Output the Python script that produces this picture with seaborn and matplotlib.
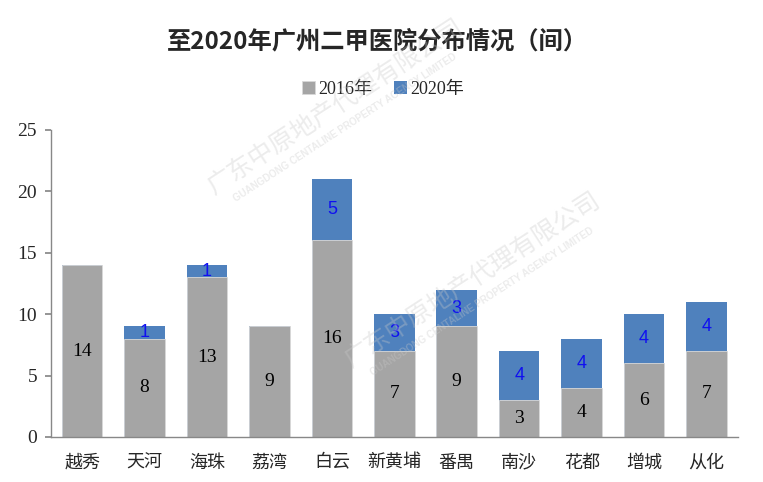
import matplotlib
matplotlib.use("Agg")
import matplotlib.pyplot as plt
import seaborn as sns
import pandas as pd

districts = ["越秀", "天河", "海珠", "荔湾", "白云", "新黄埔", "番禺", "南沙", "花都", "增城", "从化"]
v2016 = [14, 8, 13, 9, 16, 7, 9, 3, 4, 6, 7]
v2020_add = [0, 1, 1, 0, 5, 3, 3, 4, 4, 4, 4]
legend_labels = ["2016年", "2020年"]
title = "至2020年广州二甲医院分布情况（间）"
yticks = [0, 5, 10, 15, 20, 25]

sns.set_theme(style="white")
plt.rcParams['font.family'] = ['Liberation Serif', 'Noto Sans CJK SC', 'DejaVu Sans']

df = pd.DataFrame({"district": districts, "y2016": v2016, "add": v2020_add})
df["total"] = df["y2016"] + df["add"]

gray = "#A5A5A5"
blue = "#4F81BD"

fig = plt.figure(figsize=(7.63, 4.82), dpi=100)
ax = fig.add_axes([0.0668, 0.0934, 0.900, 0.637])

sns.barplot(data=df, x="district", y="total", color=blue, saturation=1, width=0.65, ax=ax,
            label=legend_labels[1], linewidth=0)
sns.barplot(data=df, x="district", y="y2016", color=gray, saturation=1, width=0.65, ax=ax,
            label=legend_labels[0], edgecolor="#d9d9d9", linewidth=0.6)

for i, row in df.iterrows():
    ax.text(i, row["y2016"] / 2, str(row["y2016"]), ha="center", va="center",
            fontsize=14, color="black", family=['Liberation Serif'])
    if row["add"] > 0:
        ax.text(i, row["y2016"] + row["add"] / 2, str(row["add"]), ha="center", va="center",
                fontsize=13, color="#1010F0", family=['Liberation Sans'])

ax.set_xlim(-0.5, 10.5)
ax.set_ylim(0, 25)
ax.set_yticks(yticks)
ax.set_xlabel("")
ax.set_ylabel("")
ax.tick_params(axis="y", labelsize=14, length=4, color="#888888", direction="out", left=True, pad=6)
ax.tick_params(axis="x", labelsize=13, length=0, pad=12)
for lab in ax.get_xticklabels():
    lab.set_family(['Noto Sans CJK SC'])
for s in ["top", "right"]:
    ax.spines[s].set_visible(False)
for s in ["left", "bottom"]:
    ax.spines[s].set_color("#888888")
    ax.spines[s].set_linewidth(1.0)

handles, labels = ax.get_legend_handles_labels()
order = [labels.index(legend_labels[0]), labels.index(legend_labels[1])]
fig.legend([handles[k] for k in order], [labels[k] for k in order],
           loc="center", bbox_to_anchor=(0.502, 0.815), ncol=2, frameon=False,
           fontsize=13, handlelength=0.7, handleheight=0.7, handletextpad=0.2, columnspacing=1.2)
if ax.get_legend() is not None:
    ax.get_legend().remove()

fig.text(0.495, 0.915, title, ha="center", va="center", fontsize=17.5, fontweight="bold",
         family=['Noto Sans CJK SC'])

# faint watermark
wm = "广东中原地产代理有限公司"
wm_en = "GUANGDONG CENTALINE PROPERTY AGENCY LIMITED"
for (x, y) in [(0.44, 0.78), (0.62, 0.42)]:
    fig.text(x, y, wm, ha="center", va="center", rotation=33, fontsize=18,
             color="#c8c8c8", alpha=0.35, family=['Noto Sans CJK SC'], zorder=10)
    fig.text(x + 0.012, y - 0.045, wm_en, ha="center", va="center", rotation=33, fontsize=7,
             color="#c8c8c8", alpha=0.35, family=['Liberation Sans'], fontweight="bold", zorder=10)

fig.savefig("out.png", dpi=100)
